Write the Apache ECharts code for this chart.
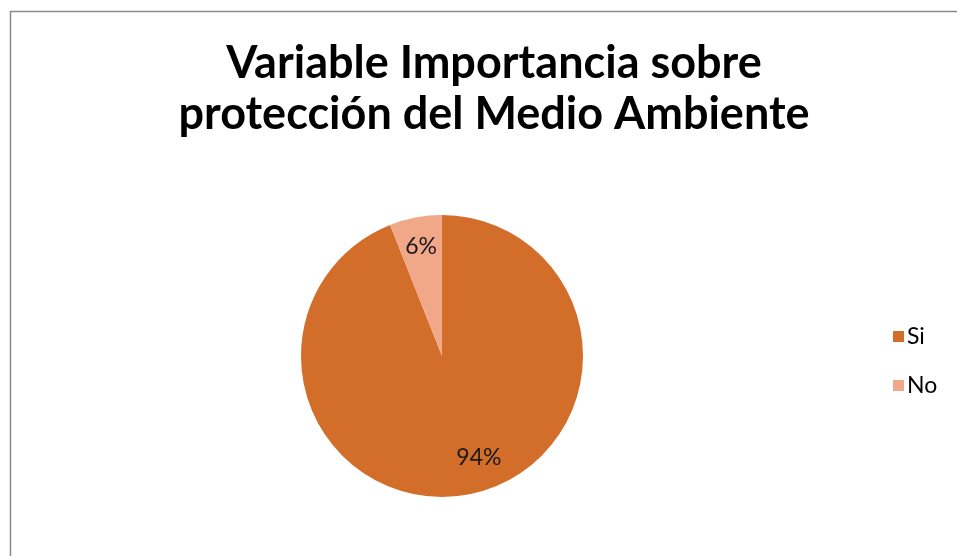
<!DOCTYPE html>
<html>
<head>
<meta charset="utf-8">
<script src="https://cdn.jsdelivr.net/npm/echarts@6/dist/echarts.min.js"></script>
<style>
  html, body { margin: 0; padding: 0; background: #fff; }
  #chart { width: 957px; height: 556px; }
</style>
</head>
<body>
<div id="chart"></div>
<script>
const titleLines = ["Variable Importancia sobre", "protección del Medio Ambiente"];
const categories = ["Si", "No"];
const values = [94, 6];
const colors = ["#D26D2A", "#F1A889"];

const pieData = categories.map((name, i) => ({ name, value: values[i] }));
// Excel nudges the big slice's label off the slice middle
const labelData = pieData.map((d, i) =>
  i === 0 ? { ...d, label: { offset: [16, -8] } } : d
);

const chart = echarts.init(document.getElementById("chart"));
chart.setOption({
  animation: false,
  color: colors,
  title: {
    text: titleLines.join("\n"),
    left: 489,
    top: 33,
    textAlign: "center",
    textStyle: {
      fontFamily: "Lato",
      fontWeight: "bold",
      fontSize: 45,
      lineHeight: 51,
      color: "#000",
    },
  },
  legend: {
    orient: "vertical",
    left: 888,
    top: 320,
    itemWidth: 11,
    itemHeight: 11,
    itemGap: 26,
    icon: "rect",
    data: categories,
    textStyle: {
      fontFamily: "Lato",
      fontSize: 23,
      color: "#000",
      padding: [0, 0, 0, -2],
    },
  },
  graphic: [
    {
      type: "rect",
      silent: true,
      shape: { x: 10.5, y: 11.5, width: 1000, height: 1000 },
      style: { fill: "none", stroke: "#8a8a8a", lineWidth: 1.5 },
    },
  ],
  series: [
    {
      type: "pie",
      center: [442, 356],
      radius: [0, 141],
      startAngle: 90,
      clockwise: true,
      label: { show: false },
      labelLine: { show: false },
      emphasis: { disabled: true },
      data: pieData,
    },
    {
      // label carrier: places the percentages at ~3/4 of the radius
      type: "pie",
      center: [442, 356],
      radius: [76, 141],
      startAngle: 90,
      clockwise: true,
      silent: true,
      itemStyle: { color: "transparent" },
      label: {
        show: true,
        position: "inside",
        formatter: "{c}%",
        fontFamily: "Lato",
        fontSize: 23,
        color: "#1a1a1a",
      },
      labelLine: { show: false },
      emphasis: { disabled: true },
      data: labelData,
    },
  ],
});
</script>
</body>
</html>
